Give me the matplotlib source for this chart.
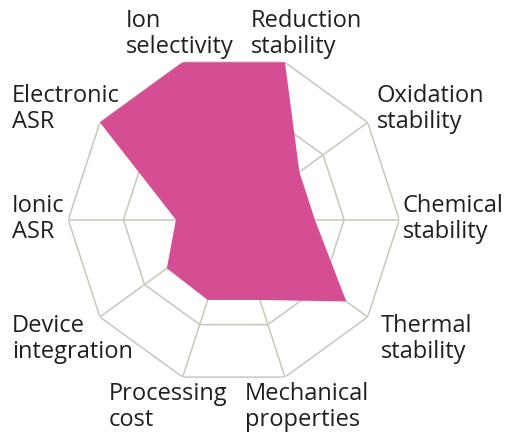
import numpy as np
import matplotlib
matplotlib.use("Agg")
import matplotlib.pyplot as plt

categories = ["Ion\nselectivity", "Reduction\nstability", "Oxidation\nstability",
              "Chemical\nstability", "Thermal\nstability", "Mechanical\nproperties",
              "Processing\ncost", "Device\nintegration", "Ionic\nASR", "Electronic\nASR"]
values = [1.0, 1.0, 0.49, 0.49, 0.84, 0.51, 0.51, 0.50, 0.35, 1.0]
ring_levels = [1/3, 2/3, 1.0]

# label anchor positions in pixels (left, top) -- layout only
label_pos = [(126, 9), (251, 9), (377, 84), (403, 194), (381, 314),
             (245, 382), (109, 382), (12, 314), (12, 194), (12, 84)]

W, H = 508, 433
FILL = "#D54E93"
GRID = "#C9C6BA"
TEXT = "#231F20"

fig = plt.figure(figsize=(W / 100, H / 100), dpi=100)
fig.patch.set_facecolor("white")

cx, cy, R = 233.8, 219.7, 165.5
ax = fig.add_axes([(cx - R) / W, (H - cy - R) / H, 2 * R / W, 2 * R / H], projection="polar")
ax.set_theta_zero_location("N")
ax.set_theta_direction(-1)
ax.set_ylim(0, 1)
ax.set_xticks([])
ax.set_yticks([])
ax.grid(False)
ax.spines["polar"].set_visible(False)
ax.patch.set_alpha(0)

n = len(categories)
step = 2 * np.pi / n
angles = np.array([-step / 2 + i * step for i in range(n)])
closed = np.append(angles, angles[0])

for lev in ring_levels:
    ax.plot(closed, [lev] * (n + 1), color=GRID, lw=1.1, zorder=1)
for a in angles:
    ax.plot([a, a], [0, 1], color=GRID, lw=1.1, zorder=1)

ax.fill(closed, values + [values[0]], color=FILL, lw=0, zorder=2)

for lab, (x, y) in zip(categories, label_pos):
    fig.text(x / W, 1 - y / H, lab, ha="left", va="top", fontsize=17,
             family="Open Sans", color=TEXT, linespacing=1.1)

fig.savefig("out.png", dpi=100)
